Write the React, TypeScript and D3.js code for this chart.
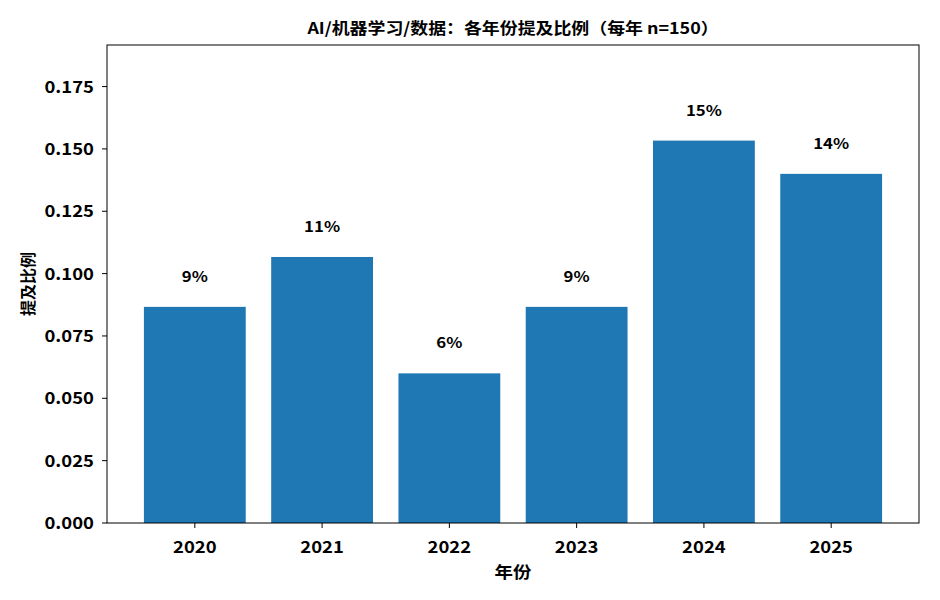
import React from 'react';
import * as d3 from 'd3';

const years = ['2020', '2021', '2022', '2023', '2024', '2025'];
const counts = [13, 16, 9, 13, 23, 21];
const sampleSize = 150;
const yTicks = [0, 0.025, 0.05, 0.075, 0.1, 0.125, 0.15, 0.175];

const W = 940;
const H = 600;
const margin = { top: 45, right: 21, bottom: 77, left: 107 };
const FONT = '"Noto Sans CJK SC", "Noto Sans", sans-serif';

// the reference text looks a little stretched sideways
const SX = 1.12;

const App: React.FC = () => {
  const shares = counts.map(c => c / sampleSize);
  const n = years.length;

  const x = d3.scaleLinear()
    .domain([-0.4 - 0.29, n - 1 + 0.4 + 0.29])
    .range([margin.left, W - margin.right]);
  const y = d3.scaleLinear()
    .domain([0, (d3.max(shares) || 0) * 1.25])
    .range([H - margin.bottom, margin.top]);

  const barW = x(0.8) - x(0);
  const x0 = margin.left;
  const x1 = W - margin.right;
  const y0 = H - margin.bottom;

  const T = (props: { x: number; y: number; size: number; anchor?: string; children: React.ReactNode; dy?: string }) => (
    <text
      transform={`translate(${props.x},${props.y}) scale(${SX},1)`}
      dy={props.dy}
      textAnchor={props.anchor || 'middle'}
      fontSize={props.size}
      fontWeight="bold"
      fill="#000"
    >
      {props.children}
    </text>
  );

  return (
    <svg width={W} height={H} style={{ display: 'block', margin: '-8px', fontFamily: FONT }}>
      <rect width={W} height={H} fill="#fff" />
      <T x={(x0 + x1) / 2} y={34} size={16}>AI/机器学习/数据：各年份提及比例（每年 n=150）</T>

      {shares.map((v, i) => (
        <g key={years[i]}>
          <rect x={x(i) - barW / 2} y={y(v)} width={barW} height={y0 - y(v)} fill="#1f77b4" />
          <T x={x(i)} y={y(v + 0.01)} size={15}>{`${Math.round(v * 100)}%`}</T>
        </g>
      ))}

      {yTicks.map(t => (
        <g key={t}>
          <line x1={x0 - 5} x2={x0} y1={y(t)} y2={y(t)} stroke="#000" strokeWidth={1} />
          <T x={x0 - 13} y={y(t)} dy="0.36em" anchor="end" size={16.5}>{t.toFixed(3)}</T>
        </g>
      ))}

      {years.map((yr, i) => (
        <g key={yr}>
          <line x1={x(i)} x2={x(i)} y1={y0} y2={y0 + 5} stroke="#000" strokeWidth={1} />
          <T x={x(i)} y={y0 + 30} size={16.5}>{yr}</T>
        </g>
      ))}

      <rect x={x0} y={margin.top} width={x1 - x0} height={y0 - margin.top} fill="none" stroke="#000" strokeWidth={1} />

      <T x={(x0 + x1) / 2} y={578} size={16.5}>年份</T>
      <text transform={`translate(34,${(margin.top + y0) / 2}) rotate(-90)`} textAnchor="middle" fontSize={16} fontWeight="bold" fill="#000">
        提及比例
      </text>
    </svg>
  );
};

export default App;
